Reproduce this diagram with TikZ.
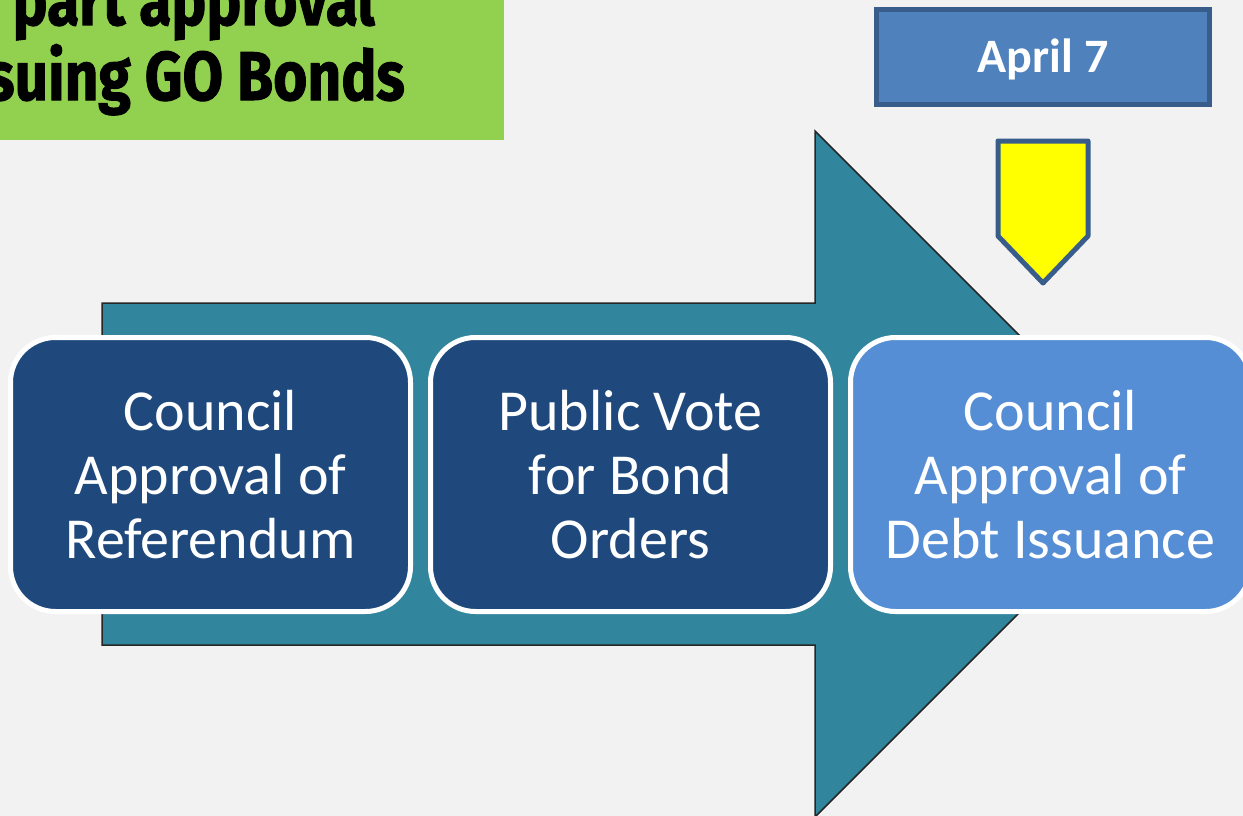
\documentclass[tikz,border=0pt]{standalone}
\usepackage{fontspec}
\usepackage{graphicx}
\setmainfont{Carlito}
\newfontfamily\gofont[BoldFeatures={FakeBold=1.5}]{Fira Sans}
\definecolor{bg}{HTML}{F2F2F2}
\definecolor{teal}{HTML}{31859C}
\definecolor{darkbox}{HTML}{1F497D}
\definecolor{lightbox}{HTML}{558ED5}
\definecolor{dateblue}{HTML}{4F81BD}
\definecolor{dateedge}{HTML}{385D8A}
\definecolor{titlegreen}{HTML}{92D050}
\definecolor{pointer}{HTML}{FFFF00}
\tikzset{
  stepbox/.style={draw=white, line width=5pt, rounded corners=45pt, minimum width=400pt, minimum height=274pt, text=white, align=center, font=\fontsize{58}{64}\selectfont, inner sep=0pt},
  titletext/.style={inner sep=0pt, text=black, font=\gofont\bfseries\fontsize{69}{75}\selectfont},
}
\begin{document}
\begin{tikzpicture}[x=1pt,y=-1pt]
\useasboundingbox (0,0) rectangle (1243,816);
\clip (0,0) rectangle (1243,816);
\fill[bg] (0,0) rectangle (1243,816);
% title box
\fill[titlegreen] (-20,-20) rectangle (504,140);
\node[titletext, anchor=base east] (t1) at (375,25) {\scalebox{0.85}[1]{part approval}};
\node[titletext, anchor=base east] (t2) at (405,100) {\scalebox{0.85}[1]{suing GO Bonds}};
% big arrow
\draw[fill=teal, draw=black!85, line width=1.5pt] (102,303) -- (815,303) -- (815,131) -- (1158,474) -- (815,817) -- (815,645) -- (102,645) -- cycle;
% step boxes
\node[stepbox, fill=darkbox] (b1) at (210.5,474.5) {Council\\Approval of\\Referendum};
\node[stepbox, fill=darkbox] (b2) at (630.5,474.5) {Public Vote\\for Bond\\Orders};
\node[stepbox, fill=lightbox] (b3) at (1050.5,474.5) {Council\\Approval of\\Debt Issuance};
% date box
\node[draw=dateedge, fill=dateblue, line width=5pt, minimum width=333pt, minimum height=95pt, inner sep=0pt] (date) at (1043,57) {};
\node[text=white, font=\bfseries\fontsize{48}{50}\selectfont, inner sep=0pt, anchor=base] (datetext) at (1043,73) {April 7};
% yellow pointer
\draw[draw=dateedge, fill=pointer, line width=5pt, line join=round] (998,141) -- (1088,141) -- (1088,236) -- (1043,283) -- (998,236) -- cycle;
\end{tikzpicture}
\end{document}
